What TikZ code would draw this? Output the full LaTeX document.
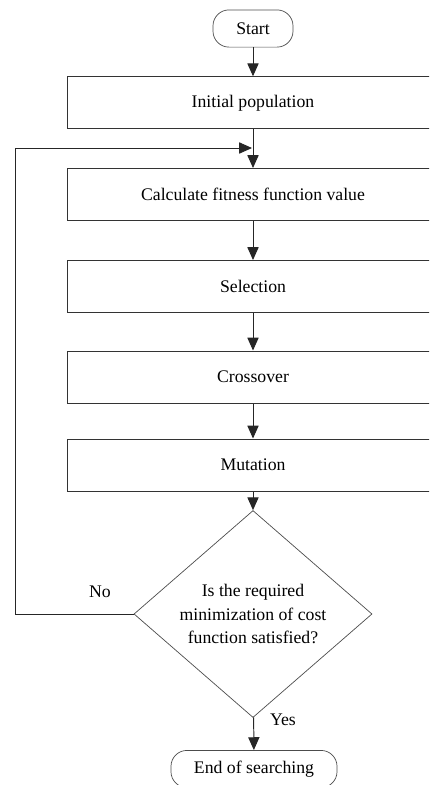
\documentclass[tikz,border=0pt]{standalone}
\usepackage{fontspec}
\setmainfont{Liberation Serif}
\usetikzlibrary{shapes.geometric,arrows.meta}

\begin{document}
\begin{tikzpicture}[x=0.025cm,y=-0.025cm,
	every node/.style={font=\fontsize{12.6}{17}\selectfont},
	stepbox/.style={draw=black!80,line width=0.7pt,minimum width=9.25cm,minimum height=1.3cm,inner sep=0pt},
	terminal/.style={draw=black!70,line width=0.5pt,rounded corners=0.4cm,minimum height=0.93cm,inner sep=0pt},
	decision/.style={draw=black!70,line width=0.5pt,diamond,minimum width=5.95cm,minimum height=4.15cm,inner sep=0pt,align=center},
	flow/.style={draw=black!85,line width=0.7pt,-{Triangle[length=3.2mm,width=2.8mm]}}
	]
	\useasboundingbox (0,0) rectangle (429,785);
	\clip (0,0) rectangle (429,785);

	% steps of the algorithm
	\node[terminal,minimum width=2cm] (start) at (253,28.5) {Start};
	\node[stepbox] (init) at (253,102.75) {Initial population};
	\node[stepbox] (fitness) at (253,194.5) {Calculate fitness function value};
	\node[stepbox] (select) at (253,286.5) {Selection};
	\node[stepbox] (cross) at (253,377) {Crossover};
	\node[stepbox] (mutate) at (253,465) {Mutation};
	\node[decision] (test) at (253,614) {Is the required\\minimization of cost\\function satisfied?};
	\node[terminal,minimum width=4.15cm] (finish) at (254,769) {End of searching};

	% arrows
	\draw[flow] (start) -- (init);
	\draw[flow] (init) -- (fitness);
	\draw[flow] (fitness) -- (select);
	\draw[flow] (select) -- (cross);
	\draw[flow] (cross) -- (mutate);
	\draw[flow] (mutate) -- (test);
	\draw[flow] (test) -- (finish);

	% loop back
	\coordinate (back) at (252,148);
	\draw[flow] (test.west) -- (15,614) -- (15,148) -- (back);

	\node (no) at (100,592) {No};
	\node (yes) at (283,720) {Yes};
\end{tikzpicture}
\end{document}
